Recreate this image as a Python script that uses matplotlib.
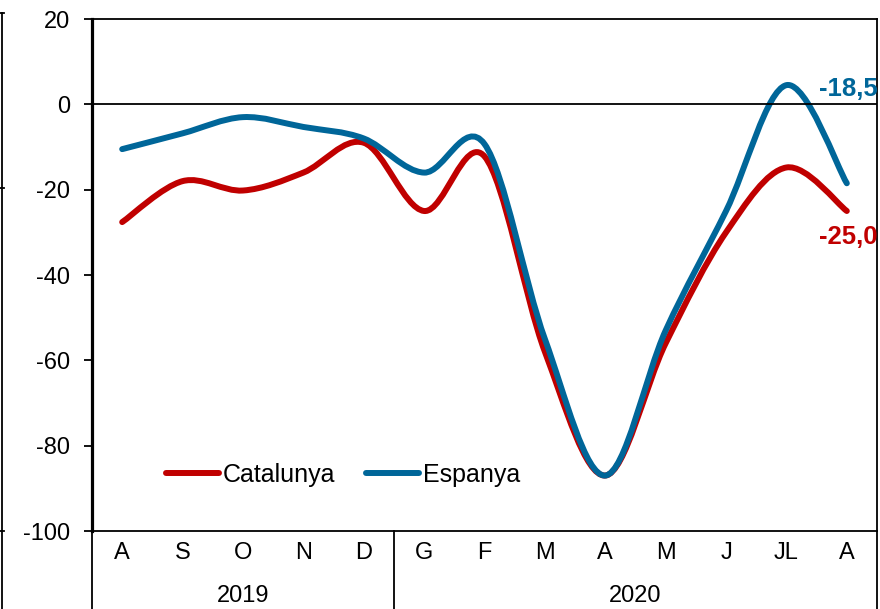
import numpy as np
import matplotlib
matplotlib.use("Agg")
import matplotlib.pyplot as plt
from matplotlib.path import Path
from matplotlib.patches import PathPatch
from matplotlib.lines import Line2D
import matplotlib.transforms as mtransforms

plt.rcParams['font.family'] = ['Liberation Sans', 'DejaVu Sans']
plt.rcParams['axes.unicode_minus'] = False

# monthly values
months = ['A', 'S', 'O', 'N', 'D', 'G', 'F', 'M', 'A', 'M', 'J', 'JL', 'A']
years = ['2019', '2020']
year_sizes = [5, 8]
catalunya = [-27.6, -18.0, -20.2, -16.0, -9.0, -25.0, -12.2, -58.0, -87.0, -56.0, -30.0, -14.8, -25.0]
espanya = [-10.5, -6.8, -3.0, -5.3, -8.0, -16.0, -9.3, -55.0, -87.0, -53.0, -25.0, 4.5, -18.5]

red = '#C00000'
blue = '#006699'


#excel style smoothed line: cubic bezier segments through the data points
def smooth_path(xs, ys):
    pts = np.column_stack([xs, ys]).astype(float)
    n = len(pts)
    verts = [pts[0]]
    codes = [Path.MOVETO]
    for i in range(n - 1):
        p0 = pts[max(i - 1, 0)]
        p1 = pts[i]
        p2 = pts[i + 1]
        p3 = pts[min(i + 2, n - 1)]
        verts += [p1 + (p2 - p0) / 6.0, p2 - (p3 - p1) / 6.0, p2]
        codes += [Path.CURVE4, Path.CURVE4, Path.CURVE4]
    return Path(verts, codes)


fig = plt.figure(figsize=(8.8, 6.09), dpi=100)
ax = fig.add_axes([92 / 880, 1 - 531 / 609, (877 - 92) / 880, (531 - 19) / 609])

x = np.arange(len(months))
for vals, col in [(catalunya, red), (espanya, blue)]:
    patch = PathPatch(smooth_path(x, vals), facecolor='none', edgecolor=col,
                      lw=4.3, capstyle='round', joinstyle='round', transform=ax.transData)
    ax.add_patch(patch)

ax.axhline(0, color='black', lw=1.3, zorder=1)

ax.set_xlim(-0.5, len(months) - 0.5)
ax.set_ylim(-100, 20)
ax.set_yticks(np.arange(-100, 21, 20))
ax.tick_params(axis='y', direction='out', length=6, width=1.3, pad=10, labelsize=17)
ax.set_xticks(x)
ax.set_xticklabels(months)
ax.tick_params(axis='x', length=0, pad=8, labelsize=17)

ax.spines['left'].set_linewidth(2.3)
for s in ['top', 'right', 'bottom']:
    ax.spines[s].set_linewidth(1.3)

#year groups under the month labels
trans = mtransforms.blended_transform_factory(ax.transData, ax.transAxes)
start = -0.5
ax.plot([start, start], [0, -0.25], color='black', lw=1.3, transform=trans, clip_on=False)
for yr, size in zip(years, year_sizes):
    end = start + size
    ax.plot([end, end], [0, -0.25], color='black', lw=1.3, transform=trans, clip_on=False)
    ax.text((start + end) / 2, -0.126, yr, transform=trans, ha='center', va='center', fontsize=17)
    start = end

#last value labels
ax.text(12.02, 3.6, '-18,5', color=blue, fontsize=18.5, fontweight='bold', ha='center', va='center')
ax.text(12.02, -31.0, '-25,0', color=red, fontsize=18.5, fontweight='bold', ha='center', va='center')

handles = [Line2D([], [], color=red, lw=4.3, solid_capstyle='round'),
           Line2D([], [], color=blue, lw=4.3, solid_capstyle='round')]
ax.legend(handles, ['Catalunya', 'Espanya'], ncol=2, frameon=False, fontsize=18,
          loc='center left', bbox_to_anchor=(0.066, 0.11), handlelength=2.1,
          handletextpad=0.15, columnspacing=1.25)

#edge of the neighbouring chart on the left
fig.add_artist(Line2D([2 / 880, 2 / 880], [0, 1 - 13 / 609], color='black', lw=1.3))
for yy in [13, 188, 531]:
    fig.add_artist(Line2D([0, 4 / 880], [1 - yy / 609, 1 - yy / 609], color='black', lw=1.3))

fig.savefig('out.png', dpi=100)
